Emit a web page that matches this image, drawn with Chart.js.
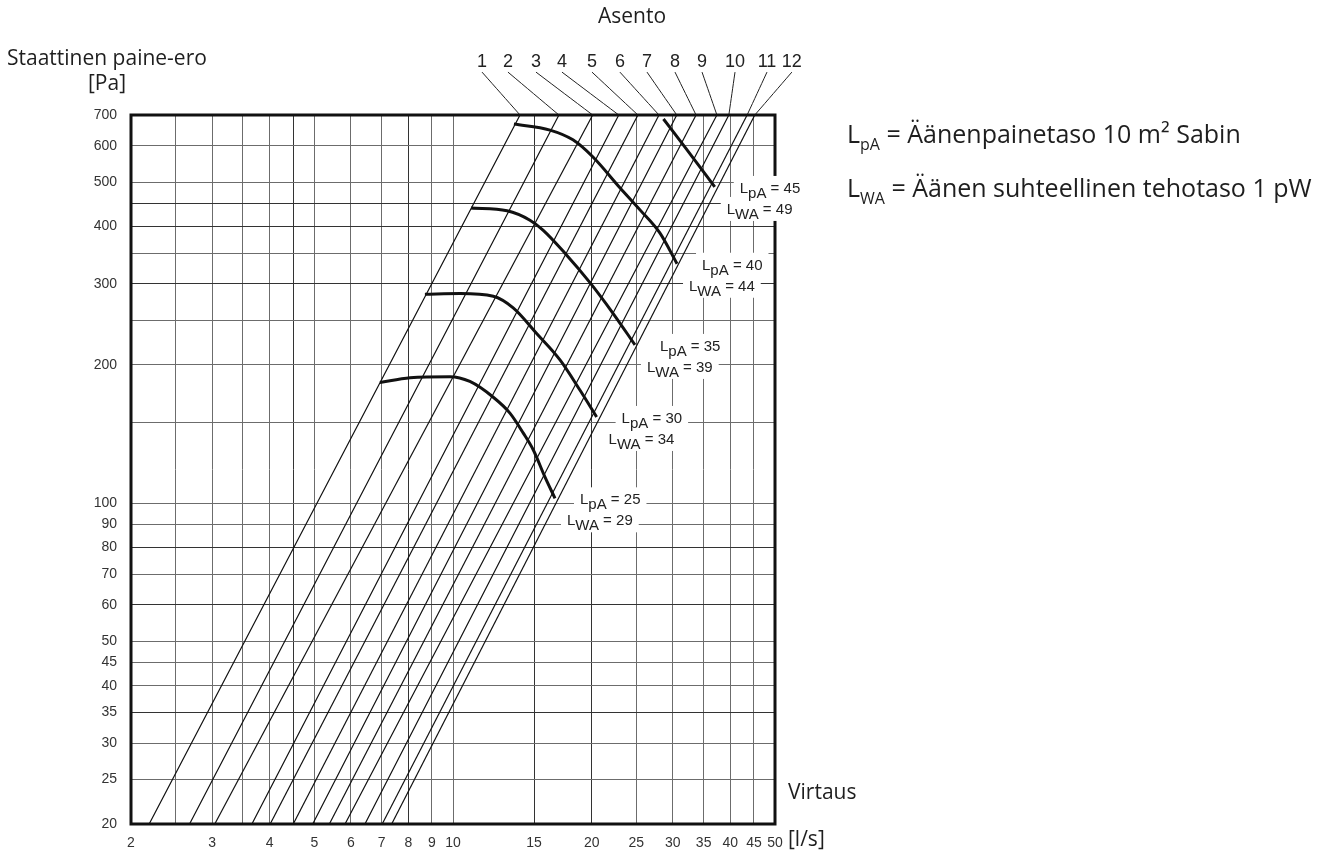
<!DOCTYPE html>
<html>
<head>
<meta charset="utf-8">
<script src="https://cdn.jsdelivr.net/npm/chart.js@4.4.1/dist/chart.umd.min.js"></script>
<style>
  html, body { margin: 0; padding: 0; background: #fff; }
</style>
</head>
<body>
<canvas id="chart" width="1341" height="855"></canvas>
<script>
// Axis grid (log-log) and printed tick labels
const flowGrid = [2, 2.5, 3, 3.5, 4, 4.5, 5, 6, 7, 8, 9, 10, 15, 20, 25, 30, 35, 40, 45, 50];
const flowTickLabels = [2, 3, 4, 5, 6, 7, 8, 9, 10, 15, 20, 25, 30, 35, 40, 45, 50];
const pressureGrid = [20, 25, 30, 35, 40, 45, 50, 60, 70, 80, 90, 100, 150, 200, 250, 300, 350, 400, 450, 500, 600, 700];
const pressureTickLabels = [20, 25, 30, 35, 40, 45, 50, 60, 70, 80, 90, 100, 200, 300, 400, 500, 600, 700];
// grid lines printed darker in the original
const darkFlowLines = [4.5, 8, 15, 20];
const darkPressureLines = [35, 60, 80, 300, 400, 450];

// Damper positions (Asento 1-12): flow [l/s] where each line meets 20 Pa and 700 Pa
const positionNames = ['1', '2', '3', '4', '5', '6', '7', '8', '9', '10', '11', '12'];
const flowAt20Pa = [2.19, 2.68, 3.04, 3.66, 4.01, 4.50, 4.96, 5.39, 5.83, 6.44, 7.02, 7.36];
const flowAt700Pa = [13.98, 16.98, 20.1, 22.9, 25.2, 28.0, 30.6, 33.7, 37.4, 39.7, 43.5, 45.2];
// numbers above the frame, and the leader lines down to it
const positionLabelFlow = [11.56, 13.16, 15.14, 17.24, 20.03, 23.03, 26.37, 30.33, 34.72, 40.94, 48.04, 54.4];
const leaderTopPa = 868;
const positionLabelPa = 915;

// Sound level curves
const lpaLevels = [25, 30, 35, 40, 45];
const lwaLevels = [29, 34, 39, 44, 49];
const curve25Flow = [6.94, 8.07, 9.85, 10.88, 12.23, 13.29, 14.21, 14.94, 15.83, 16.65];
const curve25Pa = [183, 187.5, 188.5, 184, 170, 157, 142, 130.5, 114, 102.4];
const curve30Flow = [8.69, 10.36, 12.23, 13.51, 15.19, 17.07, 18.87, 20.5];
const curve30Pa = [285, 286, 282, 266, 234, 205, 176, 154];
const curve35Flow = [10.94, 13.1, 14.69, 15.68, 17.5, 19.83, 22.25, 24.83];
const curve35Pa = [439, 433, 413, 393, 350, 302, 259, 221];
const curve40Flow = [13.56, 16.24, 18.21, 20.13, 23.03, 25.46, 28.14, 30.64];
const curve40Pa = [669, 649, 618, 567, 486, 435, 387, 332];
const curve45Flow = [28.63, 32.0, 37.0];
const curve45Pa = [686, 593, 488];

const curveFlows = [curve25Flow, curve30Flow, curve35Flow, curve40Flow, curve45Flow];
const curvePas = [curve25Pa, curve30Pa, curve35Pa, curve40Pa, curve45Pa];

const TEXT_FONT = '"Open Sans", "Noto Sans", sans-serif';
const NUM_FONT = '"Liberation Sans", Arial, sans-serif';

function toPoints(xs, ys) {
  return xs.map((x, i) => ({ x: x, y: ys[i] }));
}

function gridColor(darkList) {
  return (c) => (c.tick && darkList.includes(c.tick.value)) ? '#333' : '#6c6c6c';
}

const datasets = [];

// position lines
positionNames.forEach((name, i) => {
  datasets.push({
    label: 'Asento ' + name,
    data: [{ x: flowAt20Pa[i], y: 20 }, { x: flowAt700Pa[i], y: 700 }],
    borderColor: '#111',
    borderWidth: 1.2,
    pointRadius: 0,
    showLine: true
  });
  // leader line to the number
  datasets.push({
    label: 'leader ' + name,
    data: [{ x: flowAt700Pa[i], y: 700 }, { x: positionLabelFlow[i], y: leaderTopPa }],
    borderColor: '#222',
    borderWidth: 1,
    pointRadius: 0,
    showLine: true,
    clip: false
  });
});

// sound level curves
curveFlows.forEach((xs, i) => {
  datasets.push({
    label: 'LpA ' + lpaLevels[i],
    data: toPoints(xs, curvePas[i]),
    borderColor: '#111',
    borderWidth: 3,
    pointRadius: 0,
    showLine: true,
    cubicInterpolationMode: 'monotone'
  });
});

// "L" + subscript + rest
function measureSub(ctx, sub, rest, font, subFont) {
  ctx.font = font;
  const wL = ctx.measureText('L').width;
  const wRest = ctx.measureText(rest).width;
  ctx.font = subFont;
  const wSub = ctx.measureText(sub).width;
  return wL + wSub + wRest;
}

function drawSub(ctx, x, baseline, sub, rest, font, subFont, subDrop) {
  ctx.textAlign = 'left';
  ctx.textBaseline = 'alphabetic';
  ctx.font = font;
  ctx.fillText('L', x, baseline);
  let cx = x + ctx.measureText('L').width;
  ctx.font = subFont;
  ctx.fillText(sub, cx, baseline + subDrop);
  cx += ctx.measureText(sub).width;
  ctx.font = font;
  ctx.fillText(rest, cx, baseline);
}

const overlayPlugin = {
  id: 'overlay',
  afterDatasetsDraw(chart) {
    const { ctx, chartArea: a, scales } = chart;
    const xs = scales.x, ys = scales.y;
    ctx.save();

    // thick frame
    ctx.strokeStyle = '#111';
    ctx.lineWidth = 3;
    ctx.strokeRect(a.left, a.top, a.right - a.left, a.bottom - a.top);

    // sound level labels with white background
    const lf = '15px ' + NUM_FONT;
    curveFlows.forEach((xsFlow, i) => {
      const n = xsFlow.length - 1;
      const ex = xs.getPixelForValue(xsFlow[n]);
      const ey = ys.getPixelForValue(curvePas[i][n]);
      const x1 = ex + 25, b1 = ey + 6;
      const x2 = x1 - 13, b2 = b1 + 21;
      const r1 = ' = ' + lpaLevels[i];
      const r2 = ' = ' + lwaLevels[i];
      const w1 = measureSub(ctx, 'pA', r1, lf, lf);
      const w2 = measureSub(ctx, 'WA', r2, lf, lf);
      ctx.fillStyle = '#fff';
      ctx.fillRect(x1 - 6, b1 - 17, w1 + 12, 23);
      ctx.fillRect(x2 - 6, b2 - 17, w2 + 12, 24);
      ctx.fillStyle = '#222';
      drawSub(ctx, x1, b1, 'pA', r1, lf, lf, 5);
      drawSub(ctx, x2, b2, 'WA', r2, lf, lf, 5);
    });

    // position numbers
    ctx.fillStyle = '#222';
    ctx.font = '18px ' + NUM_FONT;
    ctx.textAlign = 'center';
    ctx.textBaseline = 'middle';
    positionNames.forEach((name, i) => {
      ctx.fillText(name, xs.getPixelForValue(positionLabelFlow[i]), ys.getPixelForValue(positionLabelPa));
    });

    // titles
    ctx.fillStyle = '#1e1e1e';
    ctx.font = '21px ' + TEXT_FONT;
    ctx.textBaseline = 'alphabetic';
    ctx.textAlign = 'center';
    ctx.fillText('Asento', 632, 23);
    ctx.textAlign = 'left';
    ctx.fillText('Staattinen paine-ero', 7, 65);
    ctx.fillText('[Pa]', 88, 90);
    ctx.fillText('Virtaus', 788, 799);
    ctx.fillText('[l/s]', 788, 846);

    // legend notes on the right
    const nf = '25px ' + TEXT_FONT;
    const sf = '16px ' + TEXT_FONT;
    drawSub(ctx, 847, 143, 'pA', ' = Äänenpainetaso 10 m² Sabin', nf, sf, 7);
    drawSub(ctx, 847, 197, 'WA', ' = Äänen suhteellinen tehotaso 1 pW', nf, sf, 7);

    ctx.restore();
  }
};

new Chart(document.getElementById('chart'), {
  type: 'scatter',
  data: { datasets: datasets },
  options: {
    responsive: false,
    animation: false,
    events: [],
    layout: { padding: { top: 115, right: 1341 - 775, left: 0, bottom: 0 } },
    plugins: { legend: { display: false }, tooltip: { enabled: false } },
    elements: { line: { tension: 0.4 } },
    scales: {
      x: {
        type: 'logarithmic',
        min: 2,
        max: 50,
        afterFit: (s) => { s.height = 31; },
        afterBuildTicks: (s) => { s.ticks = flowGrid.map(v => ({ value: v })); },
        border: { display: false },
        grid: { color: gridColor(darkFlowLines), lineWidth: 1, drawTicks: false },
        ticks: {
          autoSkip: false,
          maxRotation: 0,
          padding: 11,
          color: '#333',
          font: { family: NUM_FONT, size: 14 },
          callback: (v) => flowTickLabels.includes(v) ? String(v) : ''
        }
      },
      y: {
        type: 'logarithmic',
        min: 20,
        max: 700,
        afterFit: (s) => { s.width = 131; },
        afterBuildTicks: (s) => { s.ticks = pressureGrid.map(v => ({ value: v })); },
        border: { display: false },
        grid: { color: gridColor(darkPressureLines), lineWidth: 1, drawTicks: false },
        ticks: {
          autoSkip: false,
          padding: 14,
          color: '#333',
          font: { family: NUM_FONT, size: 14 },
          callback: (v) => pressureTickLabels.includes(v) ? String(v) : ''
        }
      }
    }
  },
  plugins: [overlayPlugin]
});
</script>
</body>
</html>
